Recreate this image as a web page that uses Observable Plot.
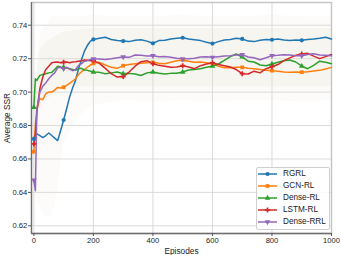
<!DOCTYPE html>
<html>
<head>
<meta charset="utf-8">
<script src="https://cdn.jsdelivr.net/npm/d3@7"></script>
<script src="https://cdn.jsdelivr.net/npm/@observablehq/plot@0.6"></script>
<style>
  html, body { margin: 0; padding: 0; background: white; }
  #wrap { position: relative; width: 341px; height: 255px; font-family: "Liberation Sans", Arial, sans-serif; }
  #legend { position: absolute; left: 256px; top: 167px; width: 69px; background: rgba(255,255,255,0.85);
    border: 1px solid #d0d0d0; border-radius: 2px; padding: 0 2px 2px 1px; font-size: 8.2px; color: #222; }
  #legend .row { display: flex; align-items: center; height: 11.9px; }
  #legend svg { display: block; margin-right: 6px; }
</style>
</head>
<body>
<div id="wrap"><div id="legend"></div></div>
<script>
const episodes = [0, 5, 10, 20, 30, 40, 50, 60, 70, 80, 90, 100, 110, 120, 130, 140, 150, 160, 170, 180, 190, 200,
  220, 240, 260, 280, 300, 320, 340, 360, 380, 400, 420, 440, 460, 480, 500, 520, 540, 560, 580, 600,
  620, 640, 660, 680, 700, 720, 740, 760, 780, 800, 820, 840, 860, 880, 900, 920, 940, 960, 980, 1000];

const rgrl = [0.672, 0.6755, 0.675, 0.674, 0.6728, 0.674, 0.6755, 0.674, 0.6725, 0.671, 0.677, 0.6833, 0.690, 0.697, 0.7025, 0.707, 0.714, 0.7195, 0.7245, 0.728, 0.7305, 0.7315,
  0.7322, 0.7328, 0.7315, 0.7308, 0.7305, 0.7302, 0.731, 0.7313, 0.7305, 0.7292, 0.7308, 0.731, 0.7318, 0.7322, 0.7325, 0.7318, 0.7313, 0.7308, 0.7298, 0.729,
  0.7302, 0.7312, 0.7315, 0.7322, 0.7318, 0.7305, 0.7302, 0.731, 0.7315, 0.7313, 0.7318, 0.7312, 0.7308, 0.7312, 0.731, 0.7315, 0.7318, 0.7322, 0.7328, 0.7318];

const gcn = [0.6643, 0.680, 0.690, 0.696, 0.6955, 0.699, 0.700, 0.700, 0.7012, 0.7028, 0.7025, 0.7029, 0.704, 0.7052, 0.7065, 0.708, 0.7105, 0.7122, 0.7135, 0.715, 0.7162, 0.7172,
  0.7178, 0.7162, 0.7148, 0.7142, 0.7158, 0.7165, 0.717, 0.7172, 0.7175, 0.7178, 0.7172, 0.7169, 0.7178, 0.7188, 0.7192, 0.7185, 0.7178, 0.718, 0.7176, 0.717,
  0.7155, 0.7146, 0.7145, 0.7148, 0.7148, 0.7143, 0.714, 0.7135, 0.713, 0.7128, 0.7125, 0.712, 0.7118, 0.712, 0.7119, 0.7122, 0.7126, 0.713, 0.7138, 0.7148];

const denseRL = [0.6909, 0.708, 0.707, 0.710, 0.7105, 0.711, 0.7115, 0.7118, 0.7135, 0.7155, 0.715, 0.7148, 0.7145, 0.714, 0.7135, 0.713, 0.714, 0.7142, 0.7132, 0.713, 0.7125, 0.712,
  0.7118, 0.711, 0.7115, 0.712, 0.711, 0.7112, 0.7108, 0.7099, 0.7115, 0.712, 0.7113, 0.7108, 0.7112, 0.7113, 0.712, 0.7132, 0.7135, 0.714, 0.7148, 0.7155,
  0.7168, 0.719, 0.7212, 0.7228, 0.721, 0.7185, 0.718, 0.7162, 0.7158, 0.7168, 0.7178, 0.7188, 0.7192, 0.718, 0.7155, 0.714, 0.716, 0.7185, 0.7178, 0.717];

const lstm = [0.669, 0.675, 0.688, 0.702, 0.709, 0.7135, 0.7155, 0.7175, 0.7178, 0.718, 0.7175, 0.7178, 0.718, 0.7175, 0.718, 0.7182, 0.7185, 0.7188, 0.7192, 0.719, 0.7188, 0.7188,
  0.7172, 0.7142, 0.711, 0.709, 0.7093, 0.712, 0.7155, 0.7182, 0.7188, 0.717, 0.716, 0.7155, 0.7148, 0.715, 0.7158, 0.715, 0.714, 0.7158, 0.7168, 0.7175,
  0.7165, 0.7158, 0.715, 0.7135, 0.711, 0.7108, 0.7125, 0.7115, 0.714, 0.7152, 0.7165, 0.7188, 0.7205, 0.722, 0.7228, 0.7232, 0.7215, 0.72, 0.7212, 0.7225];

const denseRRL = [0.6474, 0.641, 0.690, 0.700, 0.7035, 0.7055, 0.708, 0.710, 0.7115, 0.7145, 0.7148, 0.714, 0.7148, 0.7138, 0.7128, 0.7135, 0.716, 0.717, 0.7185, 0.7188, 0.7195, 0.7198,
  0.7198, 0.7195, 0.7199, 0.7205, 0.721, 0.7208, 0.7222, 0.722, 0.7216, 0.7218, 0.7212, 0.7213, 0.7208, 0.7202, 0.7199, 0.72, 0.7203, 0.721, 0.7212, 0.7208,
  0.7212, 0.7216, 0.7218, 0.7222, 0.7224, 0.721, 0.7205, 0.7193, 0.7205, 0.7218, 0.722, 0.7224, 0.7222, 0.7218, 0.7218, 0.7225, 0.7229, 0.7222, 0.722, 0.7218];

// faint raw-episode spread behind the smoothed curves
const bandEpisodes = [0, 20, 40, 60, 80, 100, 150, 200, 300, 400, 500, 600, 700, 800, 900, 1000];
const bandLo = [0.640, 0.630, 0.625, 0.625, 0.640, 0.670, 0.685, 0.692, 0.695, 0.694, 0.695, 0.694, 0.695, 0.695, 0.694, 0.695];
const bandHi = [0.700, 0.735, 0.740, 0.745, 0.745, 0.745, 0.745, 0.746, 0.745, 0.745, 0.746, 0.745, 0.745, 0.746, 0.745, 0.745];
const coreLo = [0.660, 0.690, 0.695, 0.698, 0.700, 0.702, 0.703, 0.703, 0.703, 0.703, 0.703, 0.703, 0.703, 0.703, 0.703, 0.703];
const coreHi = [0.690, 0.725, 0.730, 0.732, 0.734, 0.736, 0.737, 0.738, 0.738, 0.738, 0.738, 0.738, 0.738, 0.738, 0.738, 0.738];

const names = ["RGRL", "GCN-RL", "Dense-RL", "LSTM-RL", "Dense-RRL"];
const colors = ["#1f77b4", "#ff7f0e", "#2ca02c", "#d62728", "#9467bd"];
const xTicks = [0, 200, 400, 600, 800, 1000];
const yTicks = [0.62, 0.64, 0.66, 0.68, 0.70, 0.72, 0.74];
const xDomain = [-8, 1000];
const yDomain = [0.6154, 0.7536];

const triangleDown = {
  draw(context, size) {
    const y = -Math.sqrt(size / (Math.sqrt(3) * 3));
    context.moveTo(0, -y * 2);
    context.lineTo(-Math.sqrt(3) * y, y);
    context.lineTo(Math.sqrt(3) * y, y);
    context.closePath();
  }
};
const symbols = [d3.symbolCircle, d3.symbolSquare, d3.symbolTriangle, d3.symbolCross, triangleDown];

const valuesList = [rgrl, gcn, denseRL, lstm, denseRRL];
const rows = names.flatMap((name, k) => episodes.map((e, i) => ({e, v: valuesList[k][i], name})));
const markerRows = rows.filter(d => d.e % 100 === 0 && d.e < 1000);
const band = bandEpisodes.map((e, i) => ({e, lo: bandLo[i], hi: bandHi[i], clo: coreLo[i], chi: coreHi[i]}));

const chart = Plot.plot({
  width: 341,
  height: 255,
  marginLeft: 31,
  marginRight: 10,
  marginTop: 2,
  marginBottom: 22,
  style: {fontFamily: "'Liberation Sans', Arial, sans-serif", fontSize: "7.6px", background: "white", color: "#222"},
  x: {domain: xDomain},
  y: {domain: yDomain},
  color: {domain: names, range: colors},
  symbol: {domain: names, range: symbols},
  marks: [
    Plot.gridX(xTicks, {stroke: "#d6d6d6", strokeOpacity: 1, strokeWidth: 0.9}),
    Plot.gridY(yTicks, {stroke: "#d6d6d6", strokeOpacity: 1, strokeWidth: 0.9}),
    Plot.areaY(band, {x: "e", y1: "lo", y2: "hi", fill: "#ebe7d8", fillOpacity: 0.16}),
    Plot.areaY(band, {x: "e", y1: "clo", y2: "chi", fill: "#e6e0cc", fillOpacity: 0.2}),
    Plot.frame({stroke: "#c4c4c4", strokeWidth: 1.4}),
    Plot.ruleX([xDomain[0]], {stroke: "#6e6e6e", strokeWidth: 1.3}),
    Plot.ruleY([yDomain[0]], {stroke: "#6e6e6e", strokeWidth: 1.3}),
    Plot.axisX(xTicks, {tickSize: 3, tickPadding: 1.5, stroke: "#555", tickFormat: d3.format("d"), label: "Episodes", labelAnchor: "center", labelArrow: "none", labelOffset: 20, fontSize: 7.6}),
    Plot.axisY(yTicks, {tickSize: 3, tickPadding: 1.3, stroke: "#555", tickFormat: d3.format(".2f"), label: "Average SSR", labelAnchor: "center", labelArrow: "none", labelOffset: 27, fontSize: 7.6}),
    Plot.line(rows, {x: "e", y: "v", z: "name", stroke: "name", strokeWidth: 1.5, curve: "linear"}),
    Plot.dot(markerRows, {x: "e", y: "v", fill: "name", symbol: "name", r: 2.1, stroke: "none"})
  ]
});
document.getElementById("wrap").prepend(chart);
chart.querySelectorAll("g[aria-label='x-axis label'] text, g[aria-label='y-axis label'] text").forEach(t => t.setAttribute("font-size", "8.3"));

// legend inside the plot, lower right
const legend = document.getElementById("legend");
names.forEach((name, k) => {
  const row = document.createElement("div");
  row.className = "row";
  const svg = d3.create("svg").attr("width", 19).attr("height", 8);
  svg.append("line").attr("x1", 0).attr("x2", 19).attr("y1", 4).attr("y2", 4).attr("stroke", colors[k]).attr("stroke-width", 1.5);
  svg.append("path").attr("transform", "translate(9.5,4)").attr("d", d3.symbol(symbols[k], 2.1 * 2.1 * Math.PI)()).attr("fill", colors[k]);
  row.appendChild(svg.node());
  const label = document.createElement("span");
  label.textContent = name;
  row.appendChild(label);
  legend.appendChild(row);
});
</script>
</body>
</html>
